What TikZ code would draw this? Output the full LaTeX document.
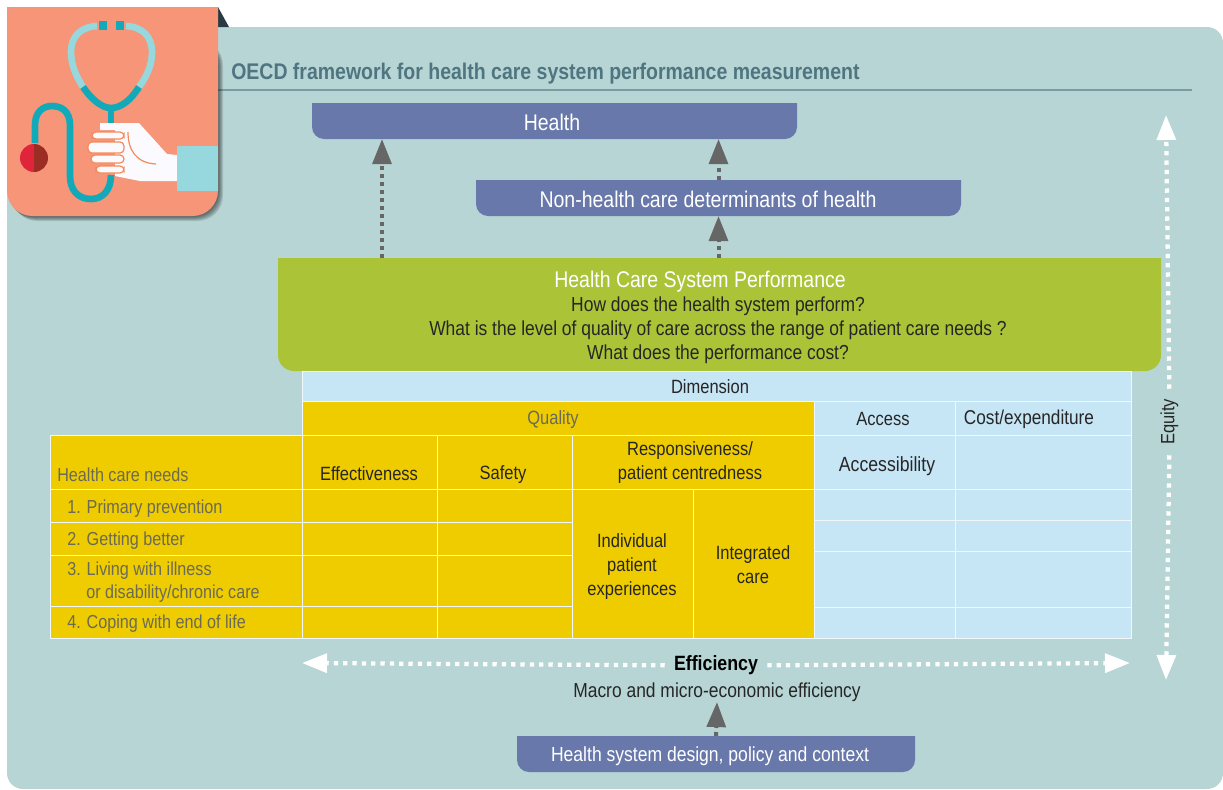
\documentclass[tikz,border=0pt]{standalone}
\usepackage{fontspec}
\setmainfont{Liberation Sans}[FakeStretch=0.86]
\usetikzlibrary{arrows.meta,calc}
\definecolor{PanelColor}{HTML}{B8D5D5}
\definecolor{IconColor}{HTML}{F79578}
\definecolor{BandColor}{HTML}{6878AA}
\definecolor{PerfColor}{HTML}{ABC337}
\definecolor{QualColor}{HTML}{EECC00}
\definecolor{DimColor}{HTML}{C6E5F5}
\definecolor{TubeColor}{HTML}{12A9B8}
\definecolor{PaleTube}{HTML}{97D8DE}
\definecolor{NeedText}{HTML}{6B6A55}
\definecolor{TitleColor}{HTML}{4F7680}
\definecolor{FoldColor}{HTML}{2A3A44}
\definecolor{HandLine}{HTML}{F58A5A}
\tikzset{
	celltext/.style={font=\fontsize{14.4}{18}\selectfont,align=center,inner sep=0pt,text=black!85,yshift=-1pt},
	needtext/.style={font=\fontsize{14.1}{18}\selectfont,align=left,anchor=west,inner sep=0pt,text=NeedText,yshift=-1pt},
	bandtext/.style={font=\fontsize{17}{18}\selectfont,inner sep=0pt,text=white},
	perftext/.style={celltext,font=\fontsize{15.2}{18}\selectfont},
	flow/.style={line width=3pt,draw=black!60,dash pattern=on 3pt off 3pt,-{Triangle[length=18.75pt,width=14pt,fill=black!60]}},
	dots/.style={line width=3.2pt,draw=white,dash pattern=on 3.2pt off 3.8pt,-{Triangle[length=18.75pt,width=14pt,fill=white]}},
	tube/.style={line width=5pt,draw=TubeColor},
	pale/.style={line width=5pt,draw=PaleTube},
	finger/.style={fill=white!60!blue!4,draw=HandLine,line width=0.9pt,rounded corners=3pt}
}
% name, x0, y0, x1, y1, fill
\newcommand{\Cell}[6]{%
	\node (#1) [rectangle,fill=#6,draw=white!75!DimColor,line width=0.6pt,inner sep=0pt,outer sep=0pt,
		minimum width={(#4-#2)*0.75pt},minimum height={(#5-#3)*0.75pt}] at ({(#2+#4)/2},{(#3+#5)/2}) {};
}
% name, x0, y0, x1, y1, radius, fill
\newcommand{\Band}[7]{%
	\fill[#7] (#2,#3) -- (#4,#3) [rounded corners=#6] -- (#4,#5) -- (#2,#5) [sharp corners] -- (#2,#3) -- cycle;
	\node (#1) [rectangle,inner sep=0pt,outer sep=0pt,minimum width={(#4-#2)*0.75pt},minimum height={(#5-#3)*0.75pt}] at ({(#2+#4)/2},{(#3+#5)/2}) {};
}
\begin{document}
\begin{tikzpicture}[x=0.75pt,y=-0.75pt]
\useasboundingbox (0,0) rectangle (1223,789);
\fill[white] (0,0) rectangle (1223,789);
\fill[PanelColor,rounded corners=12pt] (7,27) rectangle (1223,789);
% heading
\fill[FoldColor] (218,7) -- (229,27) -- (218,27) -- cycle;
\draw[line width=1.5pt,draw=TitleColor!60!PanelColor] (218,90) -- (1192,90);
\node (title) [anchor=west,inner sep=0pt,text=TitleColor,font=\fontsize{17}{18}\selectfont\bfseries] at (231,74) {OECD framework for health care system performance measurement};
% icon
\foreach \s in {1,...,5}
{\fill[black,opacity=0.12,rounded corners=19pt] (7+\s,40) -- (7+\s,216+\s) -- (218+\s,216+\s) -- (218+\s,40) -- cycle;}
\Band{icon}{7}{7}{218}{216}{19pt}{IconColor}
\draw[pale] (97,26) .. controls (80,27) and (71,37) .. (71,52) .. controls (71,65) and (76,76) .. (83,87);
\draw[pale] (126,26) .. controls (143,27) and (152,37) .. (152,52) .. controls (152,65) and (147,76) .. (139,87);
\fill[TubeColor] (99,21) rectangle (107,30);
\fill[TubeColor] (116,21) rectangle (124,30);
\draw[tube] (83,87) .. controls (92,100) and (102,108) .. (111,108) .. controls (121,108) and (131,100) .. (139,87);
\draw[tube] (111,108) -- (111,126);
\draw[tube] (111,175) .. controls (111,190) and (103,199) .. (91,199) .. controls (78,199) and (70,190) .. (70,176)
	-- (70,125) .. controls (70,112) and (62,106) .. (52,106) .. controls (42,106) and (35,113) .. (35,125) -- (35,143);
\fill[red!85!blue!75!IconColor] (34,144) arc (-90:-270:14) -- cycle;
\fill[red!45!black!70!IconColor] (34,144) arc (-90:90:14) -- cycle;
\fill[white!60!blue!4] (100,123) -- (139,123) -- (167,154) -- (177,155) -- (177,181) -- (140,181) -- (115,176) -- (115,130) -- (100,130) -- cycle;
\draw[HandLine,line width=0.9pt] (128,132) .. controls (128,150) and (136,163) .. (156,164);
\draw[finger] (92,132) rectangle (124,139);
\draw[finger] (88,142) rectangle (124,153);
\draw[finger] (91,155) rectangle (124,163);
\draw[finger] (96,166) rectangle (124,173);
\fill[PaleTube] (177,146) rectangle (218,191);
% bands
\Band{health}{312}{103}{797}{139}{9pt}{BandColor}
\node (healthlab) [bandtext] at (552,122) {Health};
\Band{nonhealth}{476}{180}{961}{216}{9pt}{BandColor}
\node (nonlab) [bandtext] at (708,199) {Non-health care determinants of health};
\Band{perf}{278}{258}{1161}{371}{12pt}{PerfColor}
\node (perftitle) [bandtext] at (700,282) {Health Care System Performance};
\node (perfa) [perftext] at (718,305) {How does the health system perform?};
\node (perfb) [perftext] at (718,329) {What is the level of quality of care across the range of patient care needs ?};
\node (perfc) [perftext] at (718,353) {What does the performance cost?};
\Band{design}{517}{736}{915}{772}{9pt}{BandColor}
\node (designlab) [bandtext,font=\fontsize{15.3}{18}\selectfont] at (710,756) {Health system design, policy and context};
% table
\Cell{dim}{302}{371}{1131}{401}{DimColor}
\Cell{quality}{302}{401}{814}{435}{QualColor}
\Cell{access}{814}{401}{955}{435}{DimColor}
\Cell{cost}{955}{401}{1131}{435}{DimColor}
\Cell{needs}{50}{435}{302}{489}{QualColor}
\Cell{eff}{302}{435}{437}{489}{QualColor}
\Cell{safe}{437}{435}{572}{489}{QualColor}
\Cell{resp}{572}{435}{814}{489}{QualColor}
\Cell{acc}{814}{435}{955}{489}{DimColor}
\Cell{expend}{955}{435}{1131}{489}{DimColor}
\foreach \n/\a/\b in {a/489/522,b/522/555,c/555/606,d/606/638}
{	\Cell{need\n}{50}{\a}{302}{\b}{QualColor}
	\Cell{eff\n}{302}{\a}{437}{\b}{QualColor}
	\Cell{safe\n}{437}{\a}{572}{\b}{QualColor}
}
\foreach \n/\a/\b in {a/489/520,b/520/551,c/551/607,d/607/638}
{	\Cell{acc\n}{814}{\a}{955}{\b}{DimColor}
	\Cell{exp\n}{955}{\a}{1131}{\b}{DimColor}
}
\Cell{indiv}{572}{489}{693}{638}{QualColor}
\Cell{integ}{693}{489}{814}{638}{QualColor}
% table labels
\node (dimlab) [celltext] at (710,385) {Dimension};
\node (quallab) [celltext,text=NeedText] at (553,418) {Quality};
\node (acclab) [celltext] at (883,418) {Access};
\node (costlab) [celltext,font=\fontsize{15}{18}\selectfont] at (1029,418) {Cost/expenditure};
\node (efflab) [celltext] at (369,472) {Effectiveness};
\node (safelab) [celltext] at (503,473) {Safety};
\node (resplab) [celltext] at (690,461) {Responsiveness/\\patient centredness};
\node (accesslab) [celltext,font=\fontsize{15.4}{18}\selectfont] at (887,465) {Accessibility};
\node (indivlab) [celltext] at (632,565) {Individual\\patient\\experiences};
\node (integlab) [celltext] at (753,563) {Integrated\\care};
\node (needhead) [needtext] at (57,473) {Health care needs};
\node (needone) [needtext] at (67,507) {1. Primary prevention};
\node (needtwo) [needtext] at (67,539) {2. Getting better};
\node (needthree) [needtext] at (67,569) {3. Living with illness};
\node (needcont) [needtext] at (86,592) {or disability/chronic care};
\node (needfour) [needtext] at (67,622) {4. Coping with end of life};
% efficiency and equity
\node (efficiency) [inner sep=0pt,minimum width=102pt*0.75,text=black,font=\fontsize{15.5}{18}\selectfont\bfseries,yshift=-1pt] at (716,664) {Efficiency};
\node (macro) [celltext,font=\fontsize{15.2}{18}\selectfont] at (717,691) {Macro and micro-economic efficiency};
\node (equity) [rotate=90,inner sep=0pt,minimum width=66pt*0.75,celltext] at (1168,422) {Equity};
\coordinate (effleft) at (302,663);
\coordinate (effright) at (1130,663);
\coordinate (equtop) at (1166,115);
\coordinate (equbot) at (1166,680);
\coordinate (leftflow) at (382,0);
% arrows
\draw[flow] (perf.north -| leftflow) -- (leftflow |- health.south);
\draw[flow] (perf.north -| nonhealth) -- (nonhealth.south);
\draw[flow] (nonhealth.north) -- (nonhealth |- health.south);
\draw[flow] (design.north) -- (macro.south);
\draw[dots] (efficiency.west) -- (effleft);
\draw[dots] (efficiency.east) -- (effright);
\draw[dots] (equity.east) -- (equtop);
\draw[dots] (equity.west) -- (equbot);
\end{tikzpicture}
\end{document}
